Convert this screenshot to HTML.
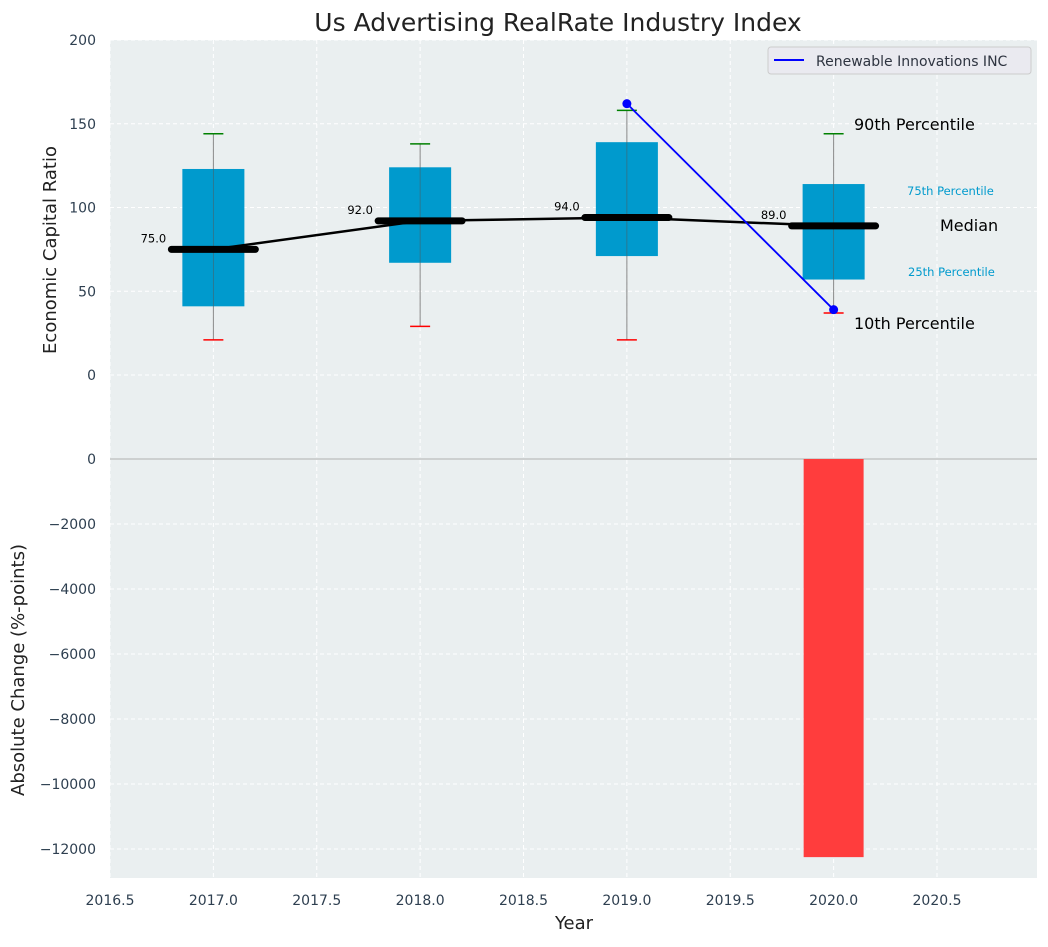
<!DOCTYPE html>
<html><head><meta charset="utf-8"><style>
body{margin:0;background:#fff;font-family:"Liberation Sans","DejaVu Sans",sans-serif}
svg text{font-family:"DejaVu Sans","Liberation Sans",sans-serif}
</style></head><body>
<svg id="c" width="1048" height="942" xmlns="http://www.w3.org/2000/svg"></svg>
<script>
const years=[2017,2018,2019,2020];
const p10=[21,29,21,37];
const q1=[41,67,71,57];
const medians=[75,92,94,89];
const q3=[123,124,139,114];
const p90=[144,138,158,144];
const companyYears=[2019,2020];
const companyVals=[162,39];
const barYears=[2020];
const barVals=[-12250];
const xTicks=[2016.5,2017,2017.5,2018,2018.5,2019,2019.5,2020,2020.5];
const yTopTicks=[0,50,100,150,200];
const yBotTicks=[0,-2000,-4000,-6000,-8000,-10000,-12000];

const L=110,R=1037,T1=40,B1=459,T2=459,B2=878;
const X=v=>L+(v-2016.5)*(937-110)/4;
const Y1=v=>375-(v)*(375-40)/200;
const Y2=v=>459-(v)*(65/2000);
const s=document.getElementById('c');const NS='http://www.w3.org/2000/svg';
function el(t,a,txt){const n=document.createElementNS(NS,t);for(const k in a)n.setAttribute(k,a[k]);if(txt!==undefined)n.textContent=txt;s.appendChild(n);return n;}

let e;
e=el('rect',{x:L,y:T1,width:R-L,height:B2-T1,fill:'#eaeff0'});


xTicks.forEach(v=>{
 e=el('line',{x1:X(v),x2:X(v),y1:T1,y2:B2,stroke:'#fff','stroke-dasharray':'4,3','stroke-width':1});
 
 
 e=el('text',{x:X(v),y:905,'text-anchor':'middle','font-size':14,fill:'#2e3f50'},v.toFixed(1));
 
 
});
yTopTicks.forEach(v=>{
 e=el('line',{x1:L,x2:R,y1:Y1(v),y2:Y1(v),stroke:'#fff','stroke-dasharray':'4,3'});
 
 
 e=el('text',{x:96,y:Y1(v)+5,'text-anchor':'end','font-size':14,fill:'#2e3f50'},String(v));
 
 
});
yBotTicks.forEach(v=>{
 if(v!==0){e=el('line',{x1:L,x2:R,y1:Y2(v),y2:Y2(v),stroke:'#fff','stroke-dasharray':'4,3'});
 
 }
 e=el('text',{x:96,y:Y2(v)+5,'text-anchor':'end','font-size':14,fill:'#2e3f50'},v<0?'\u2212'+Math.abs(v):String(v));
 
 
});
e=el('line',{x1:L,x2:R,y1:459,y2:459,stroke:'#b0b0b0','stroke-width':1});



years.forEach((yr,i)=>{
 const cx=X(yr),hw=0.15*206.75;
 e=el('line',{x1:cx,x2:cx,y1:Y1(p90[i]),y2:Y1(p10[i]),stroke:'#888','stroke-width':1});
 
 
 e=el('rect',{x:cx-hw,y:Y1(q3[i]),width:2*hw,height:Y1(q1[i])-Y1(q3[i]),fill:'#009acd'});
 
 
 e=el('line',{x1:cx,x2:cx,y1:Y1(q3[i]),y2:Y1(q1[i]),stroke:'#555','stroke-width':0.8,opacity:0.6});
 
 
 e=el('line',{x1:cx-10,x2:cx+10,y1:Y1(p90[i]),y2:Y1(p90[i]),stroke:'green','stroke-width':1.5});
 
 
 e=el('line',{x1:cx-10,x2:cx+10,y1:Y1(p10[i]),y2:Y1(p10[i]),stroke:'red','stroke-width':1.5});
 
 
});
e=el('polyline',{points:years.map((y,i)=>X(y)+','+Y1(medians[i])).join(' '),fill:'none',stroke:'#000','stroke-width':2.5});


years.forEach((yr,i)=>{
 const cx=X(yr);
 e=el('line',{x1:cx-42,x2:cx+42,y1:Y1(medians[i]),y2:Y1(medians[i]),stroke:'#000','stroke-width':7,'stroke-linecap':'round'});
 
 
 e=el('text',{x:cx-60,y:Y1(medians[i])-7,'text-anchor':'middle','font-size':11.5,fill:'#000'},medians[i].toFixed(1));
 
 
});
e=el('polyline',{points:companyYears.map((y,i)=>X(y)+','+Y1(companyVals[i])).join(' '),fill:'none',stroke:'blue','stroke-width':1.8});


companyYears.forEach((y,i)=>{
 e=el('circle',{cx:X(y),cy:Y1(companyVals[i]),r:4.5,fill:'blue'});
 
 
});
barYears.forEach((y,i)=>{
 e=el('rect',{x:X(y)-0.145*206.75,y:Y2(0),width:0.29*206.75,height:Y2(barVals[i])-Y2(0),fill:'#ff3d3d'});
 
 
});
const ann=[[854,130,'90th Percentile',16,'#000'],[854,329,'10th Percentile',16,'#000'],[940,231,'Median',16,'#000'],[907,195,'75th Percentile',11.5,'#009acd'],[908,276,'25th Percentile',11.5,'#009acd']];
ann.forEach(a=>{e=el('text',{x:a[0],y:a[1],'font-size':a[3],fill:a[4]},a[2]);
 
 });
e=el('rect',{x:768,y:47,width:263,height:27,rx:3,fill:'#eaeaf0',stroke:'#ccc'});


e=el('line',{x1:774,x2:804,y1:60,y2:60,stroke:'blue','stroke-width':2});


e=el('text',{x:816,y:66,'font-size':14,fill:'#2e3440'},'Renewable Innovations INC');


e=el('text',{x:558,y:31,'text-anchor':'middle','font-size':25,fill:'#222'},'Us Advertising RealRate Industry Index');


e=el('text',{x:574,y:929,'text-anchor':'middle','font-size':18,fill:'#222'},'Year');


e=el('text',{x:0,y:0,'text-anchor':'middle','font-size':18,fill:'#222',transform:'translate(56,250) rotate(-90)'},'Economic Capital Ratio');


e=el('text',{x:0,y:0,'text-anchor':'middle','font-size':18,fill:'#222',transform:'translate(24,670) rotate(-90)'},'Absolute Change (%-points)');


</script>
</body></html>
